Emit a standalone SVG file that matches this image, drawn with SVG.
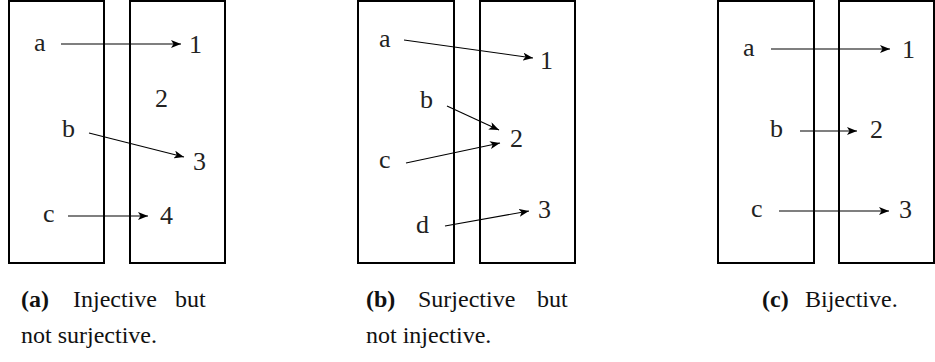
<svg xmlns="http://www.w3.org/2000/svg" width="935" height="362" viewBox="0 0 935 362">
<defs>
<marker id="ah" viewBox="0 0 10 8" refX="10" refY="4" markerWidth="10" markerHeight="8" markerUnits="userSpaceOnUse" orient="auto">
<path d="M0,0 L10,4 L0,8 L2.5,4 Z" fill="#000"/>
</marker>
</defs>
<style>
.box{fill:none;stroke:#000;stroke-width:2}
.lbl{font-family:"Liberation Serif","DejaVu Serif",serif;font-size:26px;fill:#222}
.cap{font-family:"Liberation Serif","DejaVu Serif",serif;font-size:24px;fill:#111}
.b{font-weight:bold}
.arr{stroke:#000;stroke-width:1.1;fill:none;marker-end:url(#ah)}
</style>
<rect width="935" height="362" fill="#fff"/>
<g id="panel-a">
<rect class="box" x="9" y="1" width="95" height="262"/>
<rect class="box" x="130" y="1" width="95" height="262"/>
<g id="a-a"><text class="lbl" x="34" y="51">a</text></g>
<g id="a-b"><text class="lbl" x="62" y="137">b</text></g>
<g id="a-c"><text class="lbl" x="43" y="222">c</text></g>
<g id="a-1"><text class="lbl" x="189" y="53">1</text></g>
<g id="a-2"><text class="lbl" x="155" y="107">2</text></g>
<g id="a-3"><text class="lbl" x="193" y="170">3</text></g>
<g id="a-4"><text class="lbl" x="160" y="224">4</text></g>
</g>
<g id="panel-b">
<rect class="box" x="358" y="1" width="96" height="262"/>
<rect class="box" x="480" y="1" width="95" height="262"/>
<g id="b-a"><text class="lbl" x="379" y="47">a</text></g>
<g id="b-b"><text class="lbl" x="420" y="108">b</text></g>
<g id="b-c"><text class="lbl" x="379" y="168">c</text></g>
<g id="b-d"><text class="lbl" x="416" y="233">d</text></g>
<g id="b-1"><text class="lbl" x="540" y="69">1</text></g>
<g id="b-2"><text class="lbl" x="510" y="147">2</text></g>
<g id="b-3"><text class="lbl" x="538" y="218">3</text></g>
</g>
<g id="panel-c">
<rect class="box" x="718" y="1" width="96" height="262"/>
<rect class="box" x="839" y="1" width="95" height="262"/>
<g id="c-a"><text class="lbl" x="743" y="56">a</text></g>
<g id="c-b"><text class="lbl" x="770" y="137">b</text></g>
<g id="c-c"><text class="lbl" x="751" y="217">c</text></g>
<g id="c-1"><text class="lbl" x="902" y="58">1</text></g>
<g id="c-2"><text class="lbl" x="870" y="138">2</text></g>
<g id="c-3"><text class="lbl" x="899" y="218">3</text></g>
</g>
<g id="connectors">
<line class="arr" x1="61" y1="44" x2="181" y2="44"/>
<line class="arr" x1="89" y1="133" x2="184" y2="157"/>
<line class="arr" x1="68" y1="216" x2="148" y2="216"/>
<line class="arr" x1="404" y1="40" x2="533" y2="58"/>
<line class="arr" x1="447" y1="106" x2="499" y2="130"/>
<line class="arr" x1="406" y1="163" x2="500" y2="143"/>
<line class="arr" x1="445" y1="226" x2="529" y2="211"/>
<line class="arr" x1="771" y1="49" x2="890" y2="49"/>
<line class="arr" x1="800" y1="131" x2="857" y2="131"/>
<line class="arr" x1="779" y1="211" x2="889" y2="211"/>
</g>
<g id="captions">
<text class="cap" y="307"><tspan class="b" x="21">(a)</tspan><tspan x="73">Injective</tspan><tspan x="175">but</tspan></text>
<text class="cap" x="21" y="343">not surjective.</text>
<text class="cap" y="307"><tspan class="b" x="366">(b)</tspan><tspan x="418">Surjective</tspan><tspan x="537">but</tspan></text>
<text class="cap" x="366" y="343">not injective.</text>
<text class="cap" y="307"><tspan class="b" x="762">(c)</tspan><tspan x="805">Bijective.</tspan></text>
</g>
</svg>
